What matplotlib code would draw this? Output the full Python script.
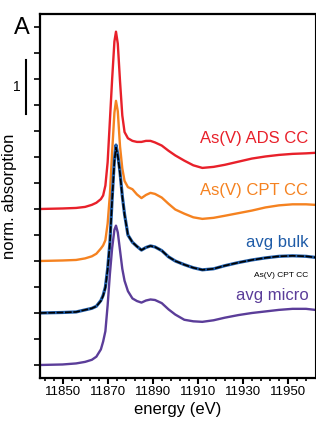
import numpy as np
import matplotlib
matplotlib.use("Agg")
import matplotlib.pyplot as plt
import matplotlib.transforms as mtransforms
from matplotlib.ticker import FixedLocator, MultipleLocator

plt.rcParams['font.family'] = ['Liberation Sans', 'DejaVu Sans']

# energia (eV)
energy = [11840, 11850, 11856, 11860, 11863, 11865, 11867, 11868, 11869, 11870,
          11871, 11872, 11873, 11873.7, 11874.5, 11875.5, 11876.5, 11877.5, 11879, 11881,
          11883, 11885, 11887, 11889, 11891, 11894, 11897, 11900, 11904, 11908,
          11912, 11917, 11922, 11928, 11934, 11940, 11946, 11952, 11958, 11962]

ads_cc = [0.00, 0.01, 0.02, 0.04, 0.08, 0.12, 0.19, 0.26, 0.45, 0.90,
          1.70, 2.50, 3.22, 3.41, 3.18, 2.45, 1.80, 1.48, 1.36, 1.31,
          1.29, 1.29, 1.31, 1.31, 1.28, 1.22, 1.12, 1.03, 0.93, 0.84,
          0.79, 0.81, 0.85, 0.91, 0.97, 1.01, 1.04, 1.06, 1.07, 1.08]

cpt_cc = [0.00, 0.01, 0.02, 0.05, 0.09, 0.14, 0.24, 0.30, 0.40, 0.72,
          1.28, 2.10, 2.85, 3.08, 2.88, 2.20, 1.78, 1.54, 1.42, 1.38,
          1.28, 1.21, 1.27, 1.31, 1.29, 1.22, 1.10, 0.99, 0.91, 0.84,
          0.81, 0.83, 0.87, 0.92, 0.97, 1.03, 1.07, 1.09, 1.09, 1.08]

avg_bulk = [0.00, 0.01, 0.02, 0.06, 0.09, 0.13, 0.24, 0.34, 0.50, 0.85,
            1.35, 2.20, 2.95, 3.23, 3.05, 2.70, 2.25, 1.90, 1.50, 1.36,
            1.28, 1.21, 1.26, 1.29, 1.27, 1.20, 1.08, 1.00, 0.93, 0.87,
            0.83, 0.85, 0.91, 0.97, 1.02, 1.06, 1.09, 1.10, 1.09, 1.07]

# ajuste con As(V) CPT CC sobre avg bulk
bulk_fit = [0.00, 0.01, 0.02, 0.06, 0.09, 0.13, 0.23, 0.33, 0.49, 0.84,
            1.34, 2.18, 2.92, 3.18, 3.02, 2.68, 2.24, 1.89, 1.50, 1.36,
            1.28, 1.21, 1.26, 1.29, 1.27, 1.20, 1.08, 1.00, 0.93, 0.87,
            0.83, 0.85, 0.91, 0.97, 1.02, 1.06, 1.09, 1.10, 1.09, 1.07]

avg_micro = [0.00, 0.01, 0.03, 0.06, 0.10, 0.16, 0.30, 0.45, 0.65, 1.15,
             1.75, 2.25, 2.60, 2.68, 2.55, 2.20, 1.85, 1.62, 1.42, 1.28,
             1.23, 1.20, 1.24, 1.26, 1.25, 1.19, 1.07, 0.97, 0.87, 0.84,
             0.83, 0.86, 0.91, 0.96, 1.00, 1.03, 1.06, 1.08, 1.08, 1.06]

offsets = [3, 2, 1, 0]

fig = plt.figure(figsize=(3.16, 4.24), dpi=100)
ax = fig.add_axes([0.1266, 0.1085, 0.8704, 0.8585])

E = np.array(energy)
ax.plot(E, np.array(ads_cc) + offsets[0], color='#E8202A', lw=1.7)
ax.plot(E, np.array(cpt_cc) + offsets[1], color='#F58220', lw=1.7)
ax.plot(E, np.array(avg_bulk) + offsets[2], color='#1F5CA8', lw=2.3)
ax.plot(E, np.array(bulk_fit) + offsets[2], color='black', lw=1.2, ls=(0, (4, 1)))
ax.plot(E, np.array(avg_micro) + offsets[3], color='#5B3D99', lw=1.7)

# etiquetas de las curvas
fs = 12
ax.text(11959, 4.35, "As(V) ADS CC", color='#E8202A', fontsize=fs, ha='right', va='center')
ax.text(11959, 3.35, "As(V) CPT CC", color='#F58220', fontsize=fs, ha='right', va='center')
ax.text(11959, 2.35, "avg bulk", color='#1F5CA8', fontsize=fs, ha='right', va='center')
ax.text(11959, 1.73, "As(V) CPT CC", color='black', fontsize=6, ha='right', va='center')
ax.text(11959, 1.33, "avg micro", color='#5B3D99', fontsize=fs, ha='right', va='center')

ax.set_xlim(11840, 11962)
ax.set_ylim(-0.25, 6.75)
ax.xaxis.set_major_locator(FixedLocator([11850, 11870, 11890, 11910, 11930, 11950]))
ax.xaxis.set_minor_locator(FixedLocator(np.arange(11842, 11962, 4)))
ax.yaxis.set_major_locator(MultipleLocator(0.5))
ax.set_yticklabels([])
ax.tick_params(axis='x', which='major', length=4, width=1.5, labelsize=9.5, pad=2)
ax.tick_params(axis='x', which='minor', length=2, width=1.2)
ax.tick_params(axis='y', which='major', length=4, width=1.2)

for s in ['left', 'bottom', 'top']:
    ax.spines[s].set_linewidth(1.6)
ax.spines['right'].set_linewidth(0.8)

ax.set_xlabel("energy (eV)", fontsize=fs, labelpad=3)
ax.set_ylabel("norm. absorption", fontsize=fs)
ax.yaxis.set_label_coords(-0.084, 0.5)

# barra de escala = 1
trans = mtransforms.blended_transform_factory(ax.transAxes, ax.transData)
ax.plot([-0.051, -0.051], [4.83, 5.87], color='black', lw=1.5, transform=trans, clip_on=False)
ax.text(-0.083, 5.35, "1", fontsize=10, ha='center', va='center', transform=trans)

fig.text(0.068, 0.935, "A", fontsize=17, ha='center', va='center')

fig.savefig("out.png", dpi=100)
